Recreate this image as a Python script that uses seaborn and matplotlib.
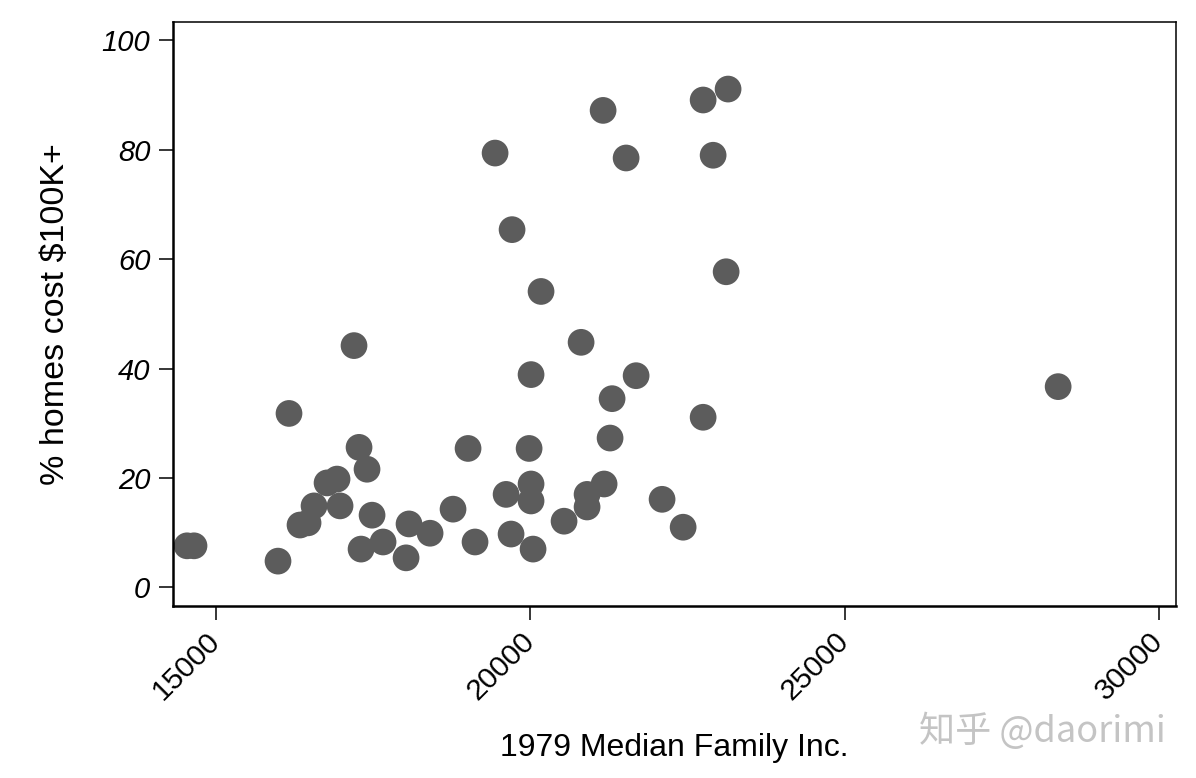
import seaborn as sns
import matplotlib.pyplot as plt
import pandas as pd

# 1979 median family income vs share of homes costing $100K+
income = [14539, 14650, 15986, 16161, 16336, 16464, 16559, 16766, 16925, 16973,
          17195, 17275, 17402, 17307, 17482, 17657, 18023, 18070, 18405, 18770,
          19009, 19120, 19439, 19614, 19693, 19709, 19980, 20011, 20011, 20011,
          20043, 20170, 20536, 20807, 20902, 20902, 21157, 21173, 21268, 21300,
          21523, 21682, 22095, 22430, 22748, 22748, 22907, 23114, 23145, 28395]
pct_100k = [7.6, 7.6, 4.8, 31.8, 11.4, 11.8, 14.9, 19.1, 19.8, 14.9,
            44.2, 25.6, 21.6, 7.0, 13.2, 8.3, 5.4, 11.6, 9.9, 14.3,
            25.4, 8.3, 79.4, 17.0, 9.75, 65.4, 25.4, 38.9, 18.9, 15.8,
            7.0, 54.1, 12.1, 44.8, 17.0, 14.7, 87.2, 18.9, 27.3, 34.5,
            78.5, 38.7, 16.1, 11.0, 89.1, 31.1, 79.0, 57.7, 91.1, 36.7]
xticks = [15000, 20000, 25000, 30000]
yticks = [0, 20, 40, 60, 80, 100]

df = pd.DataFrame({"income": income, "pct": pct_100k})

sns.set_theme(style="white")
plt.rcParams['font.family'] = ['Liberation Sans', 'DejaVu Sans']
plt.rcParams['text.color'] = 'black'
plt.rcParams['axes.labelcolor'] = 'black'
plt.rcParams['xtick.color'] = 'black'
plt.rcParams['ytick.color'] = 'black'

fig = plt.figure(figsize=(11.96, 7.78), dpi=100)
ax = fig.add_axes([0.1444, 0.2211, 0.8389, 0.7502])

sns.scatterplot(data=df, x="income", y="pct", ax=ax, s=370,
                color="#5c5c5c", edgecolor="none", linewidth=0, alpha=1)

ax.set_xlim(14311, 30270)
ax.set_ylim(-3.4, 103.3)
ax.set_xticks(xticks)
ax.set_yticks(yticks)
ax.set_xticklabels([str(t) for t in xticks], rotation=45, ha="right", va="center",
                   rotation_mode="anchor", fontsize=21.5)
ax.set_yticklabels([str(t) for t in yticks], fontsize=21, style="italic")
ax.tick_params(axis="both", direction="out", length=10, width=1.1, color="black",
               left=True, bottom=True)
ax.tick_params(axis="y", pad=6)
ax.tick_params(axis="x", pad=12)

for side in ["left", "bottom"]:
    ax.spines[side].set_linewidth(1.8)
for side in ["top", "right"]:
    ax.spines[side].set_linewidth(1.1)
for sp in ax.spines.values():
    sp.set_color("black")
    sp.set_visible(True)

ax.set_xlabel("1979 Median Family Inc.", fontsize=23, labelpad=20)
ax.set_ylabel("% homes cost $100K+", fontsize=24.5, labelpad=22)

fig.text(0.975, 0.06, "知乎 @daorimi", ha="right", va="center", fontsize=26,
         color="#c4c4c4", family=['Noto Sans CJK SC', 'DejaVu Sans'])

fig.savefig("out.png", dpi=100)
